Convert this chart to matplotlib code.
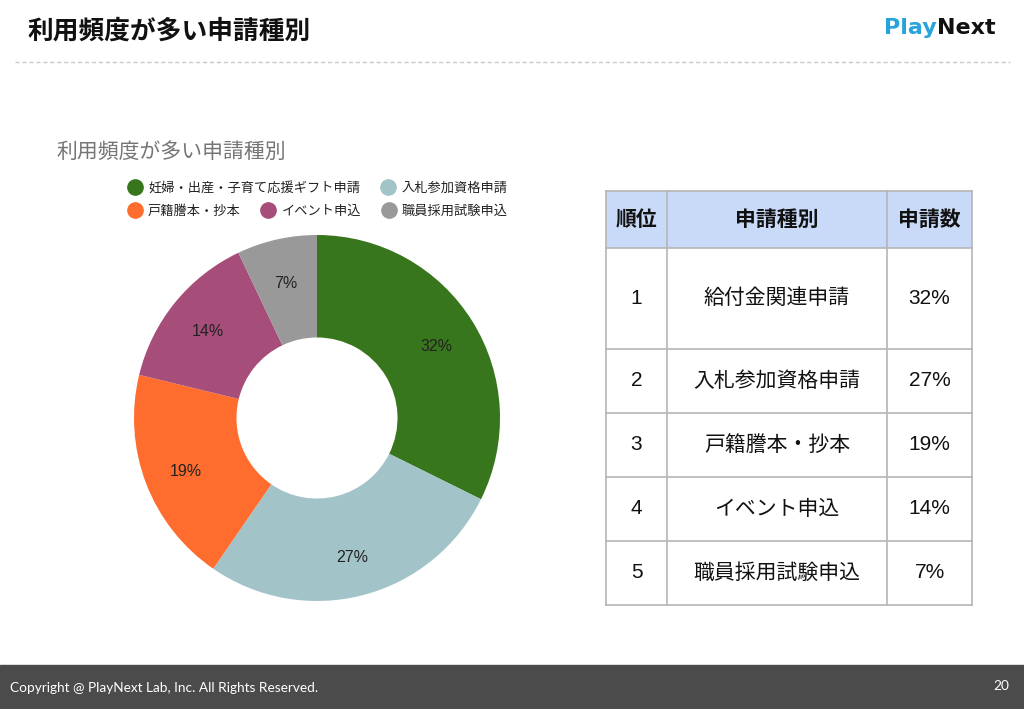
import matplotlib
matplotlib.use("Agg")
import matplotlib.pyplot as plt
from matplotlib.patches import Rectangle
from matplotlib.lines import Line2D
import numpy as np

plt.rcParams['font.family'] = ['Liberation Sans', 'Noto Sans CJK JP', 'DejaVu Sans']

# ---- data ----
page_title = "利用頻度が多い申請種別"
chart_title = "利用頻度が多い申請種別"
categories = ["妊婦・出産・子育て応援ギフト申請", "入札参加資格申請", "戸籍謄本・抄本", "イベント申込", "職員採用試験申込"]
shares = [32, 27, 19, 14, 7]
colors = ["#38761d", "#a2c4c9", "#ff6d2e", "#a64d79", "#999999"]

table_header = ["順位", "申請種別", "申請数"]
table_ranks = ["1", "2", "3", "4", "5"]
table_names = ["給付金関連申請", "入札参加資格申請", "戸籍謄本・抄本", "イベント申込", "職員採用試験申込"]
table_pcts = ["32%", "27%", "19%", "14%", "7%"]

footer_text = "Copyright @ PlayNext Lab, Inc. All Rights Reserved."
page_no = "20"

W, H = 1024, 709
fig = plt.figure(figsize=(W / 100, H / 100), dpi=100)
bg = fig.add_axes([0, 0, 1, 1])
bg.set_xlim(0, W)
bg.set_ylim(H, 0)
bg.axis('off')

# header
bg.text(27, 31, page_title, fontsize=18.5, fontweight='bold', va='center', ha='left',
        family=['Noto Sans CJK JP'], color='#111111')
t_play = bg.text(884, 28, "Play", fontsize=16, fontweight='bold', color='#29a3dc', va='center', ha='left',
                 family=['DejaVu Sans'])
bg.annotate("Next", xy=(1, 0.5), xycoords=t_play, xytext=(0, 0), textcoords='offset points',
            fontsize=16, fontweight='bold', color='#111111', va='center', ha='left',
            family=['DejaVu Sans'])
bg.plot([15, 1010], [62, 62], color='#c8c8c8', lw=1, ls=(0, (3, 2)))

# footer
bg.add_patch(Rectangle((0, 665), W, 44, color='#4b4b4b', zorder=0))
bg.text(10, 688, footer_text, fontsize=9.8, color='white', va='center', ha='left', family=['Lato'])
bg.text(1009, 686, page_no, fontsize=9.8, color='white', va='center', ha='right', family=['Lato'])

# chart title
bg.text(56, 152, chart_title, fontsize=15, color='#757575', va='center', ha='left',
        family=['Noto Sans CJK JP'])

# donut
cx, cy, R = 317, 418, 183
pax = fig.add_axes([(cx - R) / W, (H - cy - R) / H, 2 * R / W, 2 * R / H])
wedges, _ = pax.pie(shares, colors=colors, startangle=90, counterclock=False,
                    radius=1.0, wedgeprops=dict(width=0.56, edgecolor='white', linewidth=0))
pax.set_xlim(-1, 1)
pax.set_ylim(-1, 1)
pax.set_aspect('equal')
pax.axis('off')
total = sum(shares)
ang = 90.0
for v in shares:
    mid = ang - v / total * 360 / 2
    ang -= v / total * 360
    r = 0.77
    pax.text(r * np.cos(np.radians(mid)), r * np.sin(np.radians(mid)) - 0.015, f"{v}%",
             ha='center', va='center', fontsize=11.5, color='#222222')

# legends
def mk(c):
    return Line2D([], [], marker='o', color='none', markerfacecolor=c, markeredgecolor=c, markersize=11)

leg_kw = dict(frameon=False, fontsize=9.5, handletextpad=0.5, columnspacing=1.6,
              borderpad=0, handlelength=1.0, labelcolor='#222222')
l1 = bg.legend([mk(colors[0]), mk(colors[1])], categories[:2], ncol=2, loc='center',
               bbox_to_anchor=(318 / W, 1 - 188 / H), bbox_transform=fig.transFigure, **leg_kw)
bg.add_artist(l1)
l2 = bg.legend([mk(c) for c in colors[2:]], categories[2:], ncol=3, loc='center',
               bbox_to_anchor=(318 / W, 1 - 211 / H), bbox_transform=fig.transFigure, **leg_kw)
for lg in (l1, l2):
    for t in lg.get_texts():
        t.set_family(['Noto Sans CJK JP'])

# table
col_x = [606, 667, 887, 972]
row_y = [191, 248, 349, 413, 477, 541, 605]
border = '#b5b5b5'
bg.add_patch(Rectangle((col_x[0], row_y[0]), col_x[-1] - col_x[0], row_y[1] - row_y[0],
                       facecolor='#c9daf8', edgecolor='none'))
for x in col_x:
    bg.plot([x, x], [row_y[0], row_y[-1]], color=border, lw=1.2)
for y in row_y:
    bg.plot([col_x[0], col_x[-1]], [y, y], color=border, lw=1.2)
for i, h in enumerate(table_header):
    bg.text((col_x[i] + col_x[i + 1]) / 2, (row_y[0] + row_y[1]) / 2, h, fontsize=15,
            fontweight='bold', ha='center', va='center', color='#111111', family=['Noto Sans CJK JP'])
for r in range(len(table_ranks)):
    yc = (row_y[r + 1] + row_y[r + 2]) / 2
    vals = [table_ranks[r], table_names[r], table_pcts[r]]
    for i, v in enumerate(vals):
        bg.text((col_x[i] + col_x[i + 1]) / 2, yc, v, fontsize=15, ha='center', va='center',
                color='#111111')

fig.savefig("out.png", dpi=100, facecolor='white')
